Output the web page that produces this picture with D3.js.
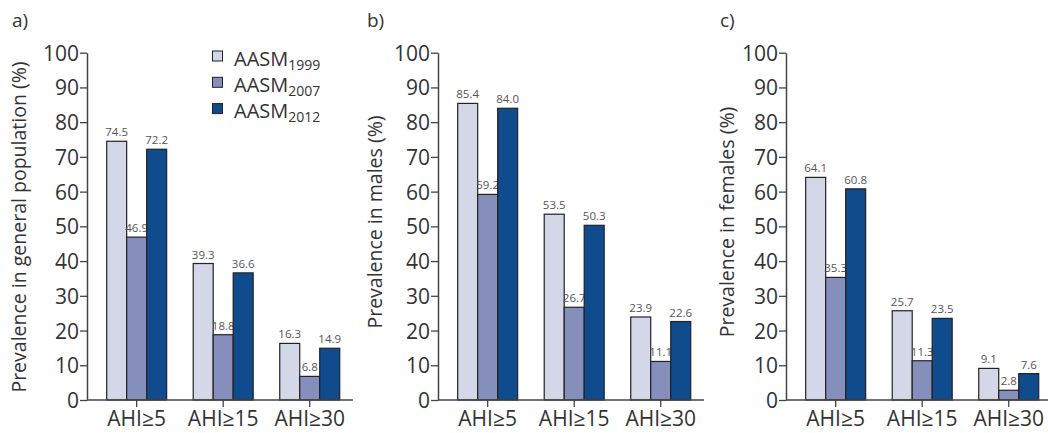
<!DOCTYPE html>
<html><head><meta charset="utf-8">
<script src="https://cdn.jsdelivr.net/npm/d3@7"></script>
<style>
body{margin:0;background:#fff;}
svg{display:block;font-family:"Open Sans",sans-serif;}
</style></head>
<body>
<svg id="chart" width="1048" height="433"></svg>
<script>
const categories = ["AHI≥5", "AHI≥15", "AHI≥30"];
const seriesNames = ["1999", "2007", "2012"];
const generalValues = [[74.5, 46.9, 72.2], [39.3, 18.8, 36.6], [16.3, 6.8, 14.9]];
const maleValues = [[85.4, 59.2, 84.0], [53.5, 26.7, 50.3], [23.9, 11.1, 22.6]];
const femaleValues = [[64.1, 35.3, 60.8], [25.7, 11.3, 23.5], [9.1, 2.8, 7.6]];
const yTicks = [0, 10, 20, 30, 40, 50, 60, 70, 80, 90, 100];
const panelLabels = ["a)", "b)", "c)"];
const yTitles = ["Prevalence in general population (%)", "Prevalence in males (%)", "Prevalence in females (%)"];
const colors = ["#d3d7e8", "#868fbb", "#0f4b8d"];

const panels = [
  {values: generalValues, x0: 87, titleX: 26, titleY: 227, labelX: 12},
  {values: maleValues, x0: 438, titleX: 382, titleY: 222, labelX: 367},
  {values: femaleValues, x0: 786, titleX: 734, titleY: 222, labelX: 720}
];

const svg = d3.select("#chart");
const y = d3.scaleLinear().domain([0, 100]).range([400, 52.7]);

panels.forEach((p, i) => {
  const g = svg.append("g");
  const x = d3.scaleBand().domain(categories).range([p.x0 + 6.4, p.x0 + 266])
    .paddingInner(0.307).paddingOuter(0.1535);
  const xs = d3.scaleBand().domain(seriesNames).range([0, x.bandwidth()]);

  // y axis
  const ya = g.append("g").attr("transform", `translate(${p.x0},0)`)
    .call(d3.axisLeft(y).tickValues(yTicks).tickSize(7).tickPadding(1).tickSizeOuter(0));
  ya.select(".domain").attr("stroke", "#444").attr("stroke-width", 1.5);
  ya.selectAll(".tick line").attr("stroke", "#444").attr("stroke-width", 1.3);
  ya.selectAll(".tick text").attr("font-size", 21).attr("fill", "#333")
    .attr("font-family", "Open Sans").attr("dy", "0.36em");

  // bars
  p.values.forEach((vals, ci) => {
    vals.forEach((v, si) => {
      const bx = x(categories[ci]) + xs(seriesNames[si]);
      g.append("rect").attr("x", bx).attr("y", y(v))
        .attr("width", xs.bandwidth()).attr("height", y(0) - y(v))
        .attr("fill", colors[si]).attr("stroke", "#222").attr("stroke-width", 1.2);
      g.append("text").attr("x", bx + xs.bandwidth() / 2).attr("y", y(v) - 5)
        .attr("text-anchor", "middle").attr("font-size", 11.5).attr("fill", "#555")
        .text(v.toFixed(1));
    });
  });

  // x axis
  const xa = g.append("g").attr("transform", `translate(0,${y(0)})`)
    .call(d3.axisBottom(x).tickSize(7).tickPadding(4).tickSizeOuter(0));
  xa.select(".domain").remove();
  g.append("line").attr("x1", p.x0).attr("x2", p.x0 + 266)
    .attr("y1", y(0)).attr("y2", y(0)).attr("stroke", "#444").attr("stroke-width", 1.5);
  xa.selectAll(".tick line").attr("stroke", "#444").attr("stroke-width", 1.3);
  xa.selectAll(".tick text").attr("font-size", 21).attr("fill", "#333")
    .attr("font-family", "Open Sans").attr("dy", "0.71em");

  // y title
  g.append("text").attr("transform", `translate(${p.titleX},${p.titleY}) rotate(-90)`)
    .attr("text-anchor", "middle").attr("font-size", 19.5).attr("fill", "#333")
    .text(yTitles[i]);

  // panel label
  g.append("text").attr("x", p.labelX).attr("y", 27).attr("font-size", 19).attr("fill", "#333")
    .text(panelLabels[i]);
});

// legend
const legend = svg.append("g");
seriesNames.forEach((s, i) => {
  const ly = 51 + i * 26.3;
  legend.append("rect").attr("x", 212.5).attr("y", ly).attr("width", 10).attr("height", 10)
    .attr("fill", colors[i]).attr("stroke", "#222").attr("stroke-width", 1);
  const t = legend.append("text").attr("x", 234).attr("y", ly + 14.5).attr("font-size", 20).attr("fill", "#333");
  t.append("tspan").text("AASM");
  t.append("tspan").attr("font-size", 14).attr("dy", 4).text(s);
});
</script>
</body></html>
